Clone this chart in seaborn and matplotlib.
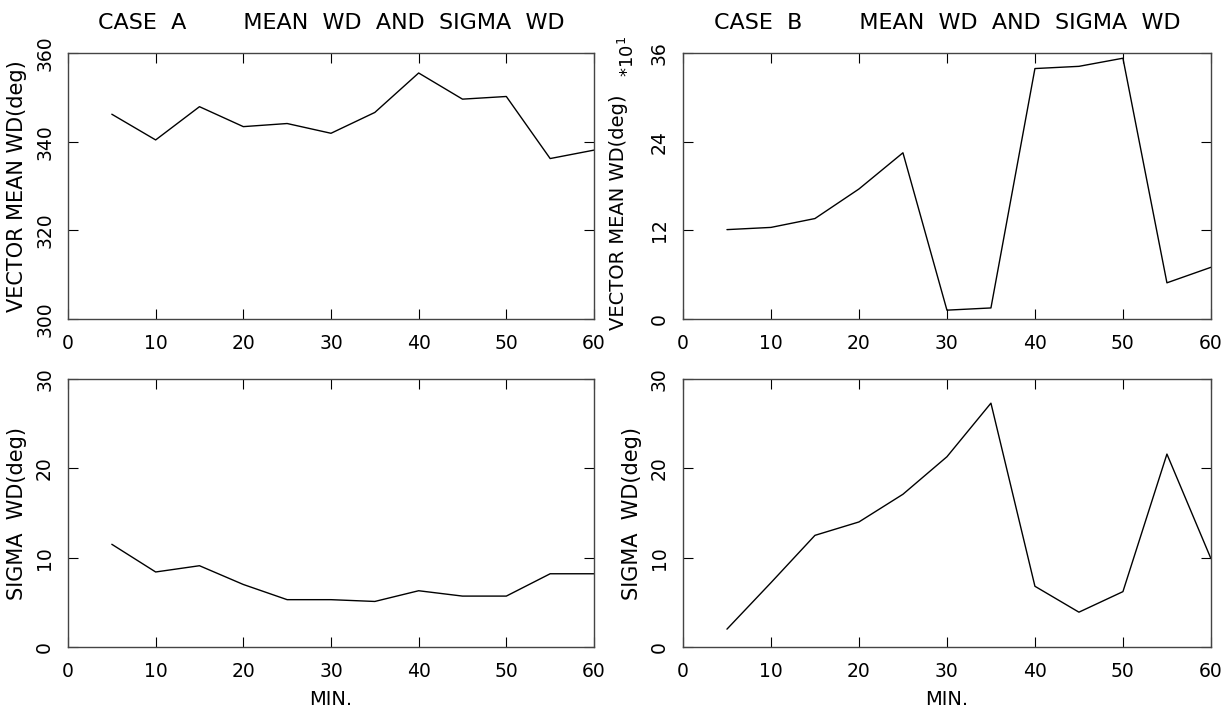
import numpy as np
import pandas as pd
import matplotlib
matplotlib.use("Agg")
import matplotlib.pyplot as plt
import seaborn as sns

# minutes
minutes = [5, 10, 15, 20, 25, 30, 35, 40, 45, 50, 55, 60]

# case A
mean_a = [346.2, 340.4, 347.9, 343.4, 344.1, 341.9, 346.6, 355.5, 349.6, 350.2, 336.2, 338.1]
sigma_a = [11.5, 8.4, 9.1, 7.0, 5.3, 5.3, 5.1, 6.3, 5.7, 5.7, 8.2, 8.2]

# case B (mean in units of 10 deg)
mean_b = [12.1, 12.4, 13.6, 17.6, 22.5, 1.2, 1.5, 33.9, 34.2, 35.3, 4.9, 7.0]
sigma_b = [2.0, 7.2, 12.5, 14.0, 17.1, 21.3, 27.3, 6.8, 3.9, 6.2, 21.6, 9.9]

xticks = [0, 10, 20, 30, 40, 50, 60]
yticks_mean_a = [300, 320, 340, 360]
yticks_mean_b = [0, 12, 24, 36]
yticks_sigma = [0, 10, 20, 30]

df = pd.DataFrame({"min": minutes, "mean_a": mean_a, "sigma_a": sigma_a,
                   "mean_b": mean_b, "sigma_b": sigma_b})

sns.set_style("ticks")
plt.rcParams["font.family"] = ["DejaVu Sans"]
plt.rcParams["text.color"] = "black"
plt.rcParams["xtick.color"] = "black"
plt.rcParams["ytick.color"] = "black"
plt.rcParams["axes.labelcolor"] = "black"

fig = plt.figure(figsize=(12.27, 7.11), dpi=100)
ax_tl = fig.add_axes([0.0554, 0.5513, 0.4287, 0.3741])
ax_tr = fig.add_axes([0.5566, 0.5513, 0.4303, 0.3741])
ax_bl = fig.add_axes([0.0554, 0.0900, 0.4287, 0.3769])
ax_br = fig.add_axes([0.5566, 0.0900, 0.4303, 0.3769])

panels = [
    (ax_tl, "mean_a", yticks_mean_a, "VECTOR MEAN WD(deg)"),
    (ax_tr, "mean_b", yticks_mean_b, "VECTOR MEAN WD(deg)"),
    (ax_bl, "sigma_a", yticks_sigma, "SIGMA  WD(deg)"),
    (ax_br, "sigma_b", yticks_sigma, "SIGMA  WD(deg)"),
]

for ax, col, yt, ylab in panels:
    sns.lineplot(data=df, x="min", y=col, ax=ax, color="black", linewidth=1.0)
    ax.set_xlim(0, 60)
    ax.set_ylim(yt[0], yt[-1])
    ax.set_xticks(xticks)
    ax.set_yticks(yt)
    ax.set_yticklabels([str(v) for v in yt], rotation=90, va="center")
    ax.tick_params(direction="in", top=True, right=True, length=7, width=0.8,
                   labelsize=13.5)
    ax.tick_params(axis="x", pad=11)
    ax.tick_params(axis="y", pad=10)
    for s in ax.spines.values():
        s.set_linewidth(1.0)
        s.set_color("#444444")
    ax.set_ylabel(ylab, fontsize=15, labelpad=6)
    ax.set_xlabel("")

# right top label sits lower to leave room for the *10^1 factor
ax_tr.set_ylabel("VECTOR MEAN WD(deg)", fontsize=14)
ax_tr.yaxis.set_label_coords(-0.104, 0.40)

ax_bl.set_xlabel("MIN.", fontsize=14, labelpad=6)
ax_br.set_xlabel("MIN.", fontsize=14, labelpad=6)

ax_tl.set_title("CASE  A        MEAN  WD  AND  SIGMA  WD", fontsize=16, pad=17)
ax_tr.set_title("CASE  B        MEAN  WD  AND  SIGMA  WD", fontsize=16, pad=17)

fig.text(0.512, 0.92, "*10$^1$", rotation=90, fontsize=13, ha="center", va="center")

fig.savefig("out.png", dpi=100)
